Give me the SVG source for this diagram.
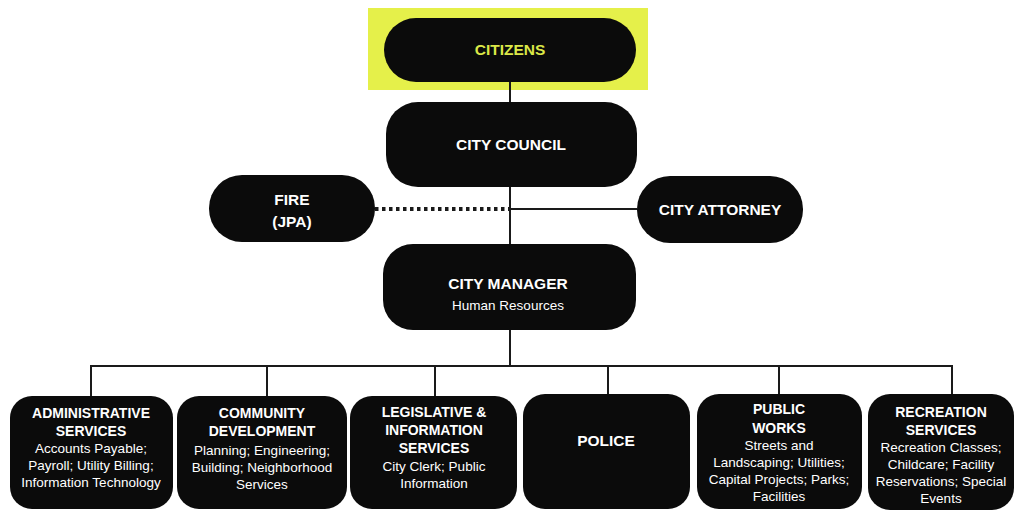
<svg xmlns="http://www.w3.org/2000/svg" width="1016" height="512" viewBox="0 0 1016 512">
<style>
.box{fill:#0b0b0b}
.t{font-family:"Liberation Sans",Arial,sans-serif;font-weight:700;font-size:15.5px;fill:#ffffff;text-anchor:middle}
.b{font-family:"Liberation Sans",Arial,sans-serif;font-weight:700;font-size:14px;fill:#ffffff;text-anchor:middle}
.s{font-family:"Liberation Sans",Arial,sans-serif;font-weight:400;font-size:13.5px;fill:#ffffff;text-anchor:middle}
.ln{stroke:#1a1a1a;stroke-width:2;fill:none}
</style>
<rect x="0" y="0" width="1016" height="512" fill="#ffffff"/>
<rect x="368" y="8" width="280" height="82" fill="#e5f04a"/>
<g id="connectors">
<line class="ln" x1="510" y1="82" x2="510" y2="102"/>
<line class="ln" x1="510" y1="187" x2="510" y2="245"/>
<line class="ln" x1="510" y1="209" x2="637" y2="209"/>
<line x1="375" y1="209" x2="510" y2="209" stroke="#1a1a1a" stroke-width="4" stroke-dasharray="3.5,3.5"/>
<line class="ln" x1="510" y1="330" x2="510" y2="366"/>
<line class="ln" x1="91" y1="366" x2="953" y2="366"/>
<line class="ln" x1="91" y1="365" x2="91" y2="397"/>
<line class="ln" x1="267" y1="365" x2="267" y2="397"/>
<line class="ln" x1="435" y1="365" x2="435" y2="397"/>
<line class="ln" x1="608" y1="365" x2="608" y2="395"/>
<line class="ln" x1="779" y1="365" x2="779" y2="395"/>
<line class="ln" x1="952" y1="365" x2="952" y2="395"/>
</g>
<g id="citizens">
<rect class="box" x="384" y="18" width="252" height="64" rx="32"/>
<text class="t" x="510" y="55" style="fill:#dbe848">CITIZENS</text>
</g>
<g id="city-council">
<rect class="box" x="386" y="102" width="251" height="85" rx="32"/>
<text class="t" x="511" y="150">CITY COUNCIL</text>
</g>
<g id="fire">
<rect class="box" x="209" y="175" width="166" height="67" rx="33"/>
<text class="t" x="292" y="205">FIRE</text>
<text class="t" x="292" y="227">(JPA)</text>
</g>
<g id="city-attorney">
<rect class="box" x="637" y="176" width="166" height="67" rx="33"/>
<text class="t" x="720" y="215">CITY ATTORNEY</text>
</g>
<g id="city-manager">
<rect class="box" x="383" y="244" width="253" height="86" rx="30"/>
<text class="t" x="508" y="289">CITY MANAGER</text>
<text class="s" x="508" y="310">Human Resources</text>
</g>
<g id="administrative-services">
<rect class="box" x="10" y="396" width="163" height="113" rx="22"/>
<text class="b" x="91" y="418">ADMINISTRATIVE</text>
<text class="b" x="91" y="436">SERVICES</text>
<text class="s" x="91" y="453">Accounts Payable;</text>
<text class="s" x="91" y="470">Payroll; Utility Billing;</text>
<text class="s" x="91" y="487">Information Technology</text>
</g>
<g id="community-development">
<rect class="box" x="177" y="396" width="170" height="113" rx="22"/>
<text class="b" x="262" y="418">COMMUNITY</text>
<text class="b" x="262" y="436">DEVELOPMENT</text>
<text class="s" x="262" y="455">Planning; Engineering;</text>
<text class="s" x="262" y="472">Building; Neighborhood</text>
<text class="s" x="262" y="489">Services</text>
</g>
<g id="legislative-information-services">
<rect class="box" x="350" y="396" width="167" height="113" rx="22"/>
<text class="b" x="434" y="417">LEGISLATIVE &amp;</text>
<text class="b" x="434" y="435">INFORMATION</text>
<text class="b" x="434" y="453">SERVICES</text>
<text class="s" x="434" y="471">City Clerk; Public</text>
<text class="s" x="434" y="488">Information</text>
</g>
<g id="police">
<rect class="box" x="523" y="394" width="167" height="115" rx="22"/>
<text class="t" x="606" y="446">POLICE</text>
</g>
<g id="public-works">
<rect class="box" x="697" y="394" width="165" height="115" rx="22"/>
<text class="b" x="779" y="414">PUBLIC</text>
<text class="b" x="779" y="433">WORKS</text>
<text class="s" x="779" y="450">Streets and</text>
<text class="s" x="779" y="467">Landscaping; Utilities;</text>
<text class="s" x="779" y="484">Capital Projects; Parks;</text>
<text class="s" x="779" y="501">Facilities</text>
</g>
<g id="recreation-services">
<rect class="box" x="868" y="394" width="146" height="116" rx="22"/>
<text class="b" x="941" y="417">RECREATION</text>
<text class="b" x="941" y="435">SERVICES</text>
<text class="s" x="941" y="452">Recreation Classes;</text>
<text class="s" x="941" y="469">Childcare; Facility</text>
<text class="s" x="941" y="486">Reservations; Special</text>
<text class="s" x="941" y="503">Events</text>
</g>
</svg>
